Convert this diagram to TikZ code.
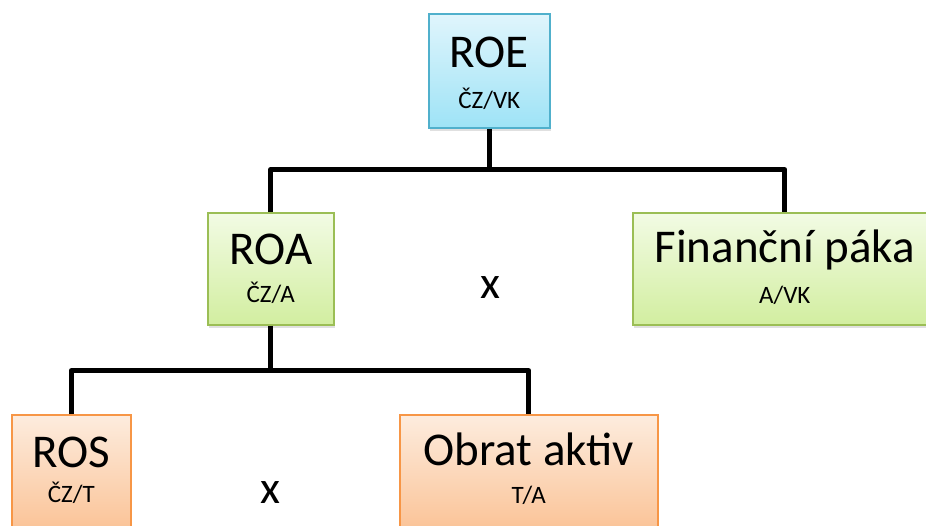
\documentclass[tikz,border=0pt]{standalone}
\usepackage{fontspec}
\setmainfont{Carlito}
\usetikzlibrary{calc,shadows}
\definecolor{bluetop}{RGB}{224,245,252}
\definecolor{bluebot}{RGB}{158,227,246}
\definecolor{blueline}{RGB}{80,176,204}
\definecolor{greentop}{RGB}{242,251,228}
\definecolor{greenbot}{RGB}{210,238,160}
\definecolor{greenline}{RGB}{155,190,85}
\definecolor{orangetop}{RGB}{253,236,222}
\definecolor{orangebot}{RGB}{250,190,142}
\definecolor{orangeline}{RGB}{247,150,70}
\tikzset{
  boxbase/.style={rectangle, line width=1.6pt, anchor=north west, inner sep=0pt,
    drop shadow={shadow xshift=1pt, shadow yshift=-3pt, opacity=0.2, fill=black!60}},
  bluebox/.style={boxbase, draw=blueline, top color=bluetop, bottom color=bluebot},
  greenbox/.style={boxbase, draw=greenline, top color=greentop, bottom color=greenbot},
  orangebox/.style={boxbase, draw=orangeline, top color=orangetop, bottom color=orangebot},
  bigtxt/.style={anchor=base, inner sep=0pt, font=\fontsize{47}{52}\selectfont},
  smalltxt/.style={anchor=base, inner sep=0pt, font=\fontsize{25}{30}\selectfont},
  times/.style={inner sep=0pt, font=\fontsize{46}{50}\selectfont},
  conn/.style={line width=5pt, line join=round, draw=black}
}
\begin{document}
\begin{tikzpicture}[x=1pt,y=-1pt]
\useasboundingbox (0,0) rectangle (926,525);
\clip (0,0) rectangle (926,525);
% boxes
\node[bluebox, minimum width=121pt, minimum height=114pt] (roe) at (428,13) {};
\node[greenbox, minimum width=126pt, minimum height=112pt] (roa) at (207,212) {};
\node[greenbox, minimum width=304pt, minimum height=112pt] (fin) at (632,212) {};
\node[orangebox, minimum width=119pt, minimum height=130pt] (ros) at (11,414) {};
\node[orangebox, minimum width=258pt, minimum height=130pt] (obr) at (399,414) {};
% connectors
\coordinate (j1) at ($(roe.south)+(0,41)$);
\coordinate (j2) at ($(roa.south)+(0,45)$);
\draw[conn] (roe.south) -- (j1);
\draw[conn] (roa.north) |- (j1) -| (fin.north);
\draw[conn] (roa.south) -- (j2);
\draw[conn] (ros.north) |- (j2) -| (obr.north);
% texts
\node[bigtxt] (roet) at ($(roe.north)+(0,54)$) {ROE};
\node[smalltxt] (roes) at ($(roe.north)+(0,95)$) {ČZ/VK};
\node[bigtxt] (roat) at ($(roa.north)+(0,52)$) {ROA};
\node[smalltxt] (roas) at ($(roa.north)+(0,90)$) {ČZ/A};
\node[bigtxt] (fint) at ($(fin.north)+(0,50)$) {Finanční páka};
\node[smalltxt] (fins) at ($(fin.north)+(0,91)$) {A/VK};
\node[bigtxt] (rost) at ($(ros.north)+(0,53)$) {ROS};
\node[smalltxt] (ross) at ($(ros.north)+(0,88)$) {ČZ/T};
\node[bigtxt] (obrt) at ($(obr.north)+(0,51)$) {Obrat aktiv};
\node[smalltxt] (obrs) at ($(obr.north)+(0,89)$) {T/A};
\node[times] (x1) at (490,288) {x};
\node[times] (x2) at (270,493) {x};
\end{tikzpicture}
\end{document}
